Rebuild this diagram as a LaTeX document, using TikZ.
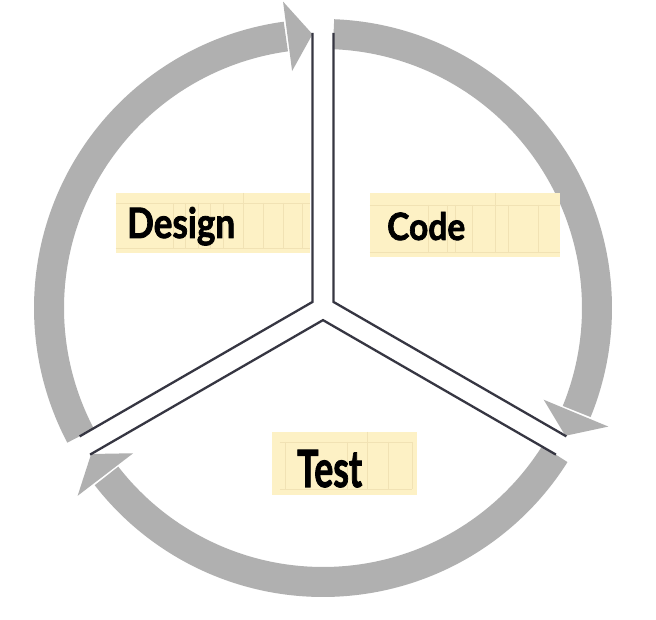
\documentclass[tikz,border=0pt]{standalone}
\usepackage{fontspec}
\setmainfont{Lato}
\newfontfamily\handfont{Lato}[BoldFeatures={FakeBold=2}]
\usetikzlibrary{calc}
\definecolor{ringgray}{HTML}{B0B0B0}
\definecolor{linedark}{HTML}{363642}
\definecolor{notefill}{HTML}{FDF1C5}
\definecolor{notegrid}{HTML}{F1E2B4}
\begin{document}
\begin{tikzpicture}[x=1pt,y=1pt,
  ring/.style={line width=30pt, draw=ringgray},
  head/.style={fill=ringgray},
  divider/.style={draw=linedark, line width=2.3pt, line join=miter},
  note/.style={fill=notefill, draw=none, inner sep=0pt, anchor=north west},
  notegridline/.style={draw=notegrid, line width=0.6pt},
  word/.style={anchor=base west, inner sep=0pt, text=black, font=\handfont\bfseries}]
\fill[white] (-323,308) rectangle (333,-312);
\useasboundingbox (-323,308) rectangle (333,-312);

% ring arcs
\draw[ring] (87.8:274) arc[start angle=87.8, end angle=-22.2, radius=274];
\fill[head] (-22.57:309) -- (-27.8:274) -- (-22.57:239) -- cycle;
\draw[ring] (-32.2:274) arc[start angle=-32.2, end angle=-142.2, radius=274];
\fill[head] (-142.57:309) -- (-147.8:274) -- (-142.57:239) -- cycle;
\draw[ring] (207.8:274) arc[start angle=207.8, end angle=97.8, radius=274];
\fill[head] (97.43:309) -- (92.2:274) -- (97.43:239) -- cycle;

% dividers
\coordinate (TL) at ($(90:275)+(180:10.5)$);
\coordinate (TR) at ($(90:275)+(0:10.5)$);
\coordinate (J1) at (150:12.12);
\coordinate (J2) at (30:12.12);
\coordinate (J3) at (270:12.12);
\coordinate (RU) at ($(-30:275)+(60:10.5)$);
\coordinate (RL) at ($(-30:275)+(240:10.5)$);
\coordinate (LU) at ($(210:275)+(120:10.5)$);
\coordinate (LL) at ($(210:275)+(300:10.5)$);
\draw[divider] (TL) -- (J1) -- (LU);
\draw[divider] (TR) -- (J2) -- (RU);
\draw[divider] (LL) -- (J3) -- (RL);

% notes
\node[note, minimum width=194pt, minimum height=60pt] (dn) at (-207,115) {};
\draw[notegridline] ($(dn.north west)+(0,-10)$) -- ($(dn.north east)+(0,-10)$);
\draw[notegridline] ($(dn.south west)+(0,5)$) -- ($(dn.south east)+(0,5)$);
\foreach \o in {57,69,82,94,107,127,147,167,186}
  \draw[notegridline] ($(dn.north west)+(\o,-10)$) -- ($(dn.south west)+(\o,5)$);
\draw[notegridline] ($(dn.north west)+(127,0)$) -- ($(dn.north west)+(127,-10)$);

\node[note, minimum width=190pt, minimum height=64pt] (cn) at (47,115) {};
\draw[notegridline] ($(cn.north west)+(0,-12)$) -- ($(cn.north east)+(0,-12)$);
\draw[notegridline] ($(cn.south west)+(0,5)$) -- ($(cn.south east)+(0,5)$);
\foreach \o in {58,77,85,102,125,138,168}
  \draw[notegridline] ($(cn.north west)+(\o,-12)$) -- ($(cn.south west)+(\o,5)$);
\draw[notegridline] ($(cn.north west)+(125,0)$) -- ($(cn.north west)+(125,-12)$);

\node[note, minimum width=145pt, minimum height=63pt] (tn) at (-51,-124) {};
\draw[notegridline] ($(tn.north west)+(8,-10)$) -- ($(tn.north east)+(-5,-10)$);
\draw[notegridline] ($(tn.south west)+(8,6)$) -- ($(tn.south east)+(-5,6)$);
\foreach \o in {13,75,95,116,140}
  \draw[notegridline] ($(tn.north west)+(\o,-10)$) -- ($(tn.south west)+(\o,6)$);
\draw[notegridline] ($(tn.north west)+(95,0)$) -- ($(tn.north west)+(95,-10)$);

% words
\node[word] (designtext) at (-196,70) {\resizebox{108pt}{31pt}{Design}};
\node[word] (codetext) at (64,68) {\resizebox{78pt}{28pt}{Code}};
\node[word] (testtext) at (-26,-179) {\resizebox{65pt}{37pt}{Test}};
\end{tikzpicture}
\end{document}
